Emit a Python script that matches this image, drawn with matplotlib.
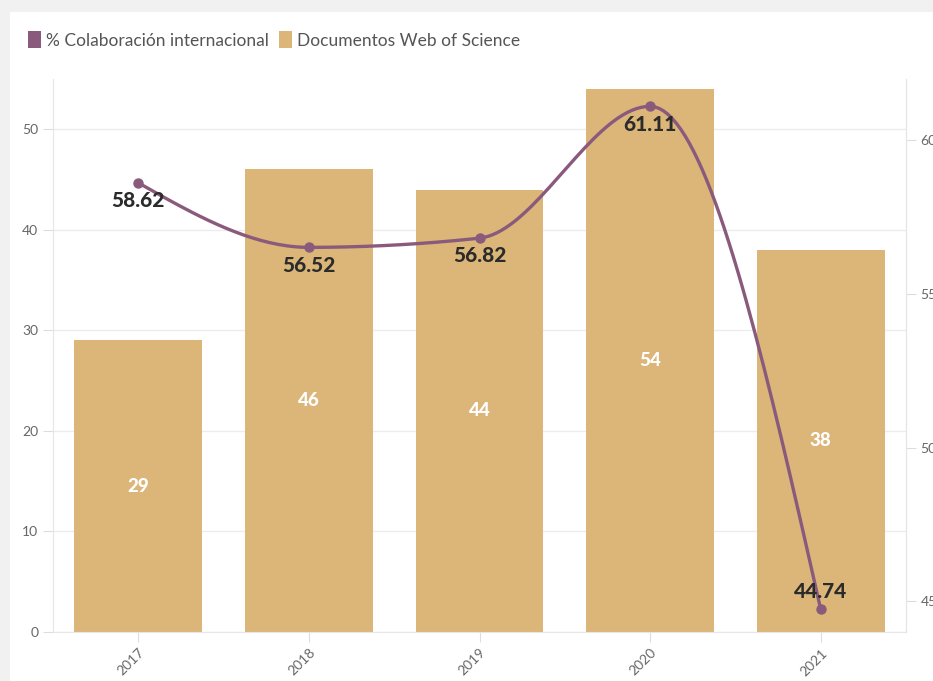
import numpy as np
import matplotlib.pyplot as plt
from matplotlib.patches import Patch, Rectangle

years = ["2017", "2018", "2019", "2020", "2021"]
docs = [29, 46, 44, 54, 38]
colab = [58.62, 56.52, 56.82, 61.11, 44.74]

BAR_COLOR = "#dbb678"
LINE_COLOR = "#8a5a7c"
TEXT_GRAY = "#666666"


def monotone_curve(x, y, steps=40):
    # monotone cubic (same rule as d3 curveMonotoneX), drawn as bezier segments
    x = np.asarray(x, float)
    y = np.asarray(y, float)
    h = np.diff(x)
    s = np.diff(y) / h
    t = np.zeros(len(x))
    for i in range(1, len(x) - 1):
        p = (s[i - 1] * h[i] + s[i] * h[i - 1]) / (h[i - 1] + h[i])
        t[i] = (np.sign(s[i - 1]) + np.sign(s[i])) * min(abs(s[i - 1]), abs(s[i]), 0.5 * abs(p))
    t[0] = (3 * s[0] - t[1]) / 2
    t[-1] = (3 * s[-1] - t[-2]) / 2
    xs, ys = [], []
    u = np.linspace(0, 1, steps)
    for i in range(len(x) - 1):
        dx = h[i] / 3
        px = [x[i], x[i] + dx, x[i + 1] - dx, x[i + 1]]
        py = [y[i], y[i] + dx * t[i], y[i + 1] - dx * t[i + 1], y[i + 1]]
        b = [(1 - u) ** 3, 3 * u * (1 - u) ** 2, 3 * u ** 2 * (1 - u), u ** 3]
        xs.append(sum(bk * pk for bk, pk in zip(b, px)))
        ys.append(sum(bk * pk for bk, pk in zip(b, py)))
    return np.concatenate(xs), np.concatenate(ys)


plt.rcParams["font.family"] = ["Lato", "DejaVu Sans"]

fig = plt.figure(figsize=(9.33, 6.81), dpi=100, facecolor="#f1f1f1")
# white card behind everything
fig.patches.append(Rectangle((10 / 933, 0), 1, 1 - 12 / 681, transform=fig.transFigure,
                             facecolor="white", edgecolor="none", zorder=-10))

ax = fig.add_axes([53 / 933, 49 / 681, 853 / 933, 553 / 681])
ax.set_facecolor("none")
xpos = np.arange(len(years))

ax.bar(xpos, docs, width=0.75, color=BAR_COLOR, zorder=2)
for xi, v in zip(xpos, docs):
    ax.text(xi, v / 2, str(v), ha="center", va="center", color="white",
            fontsize=13.5, fontweight="black", zorder=3)

ax.set_xlim(-0.5, len(years) - 0.5)
ax.set_ylim(0, 55)
ax.set_yticks([0, 10, 20, 30, 40, 50])
ax.grid(axis="y", color="#ececec", linewidth=1, zorder=0)
ax.set_xticks(xpos)
ax.set_xticklabels(years, rotation=45, ha="right", rotation_mode="anchor")
ax.tick_params(axis="both", colors="#dddddd", labelcolor=TEXT_GRAY, labelsize=10, length=7)
ax.spines["top"].set_visible(False)
for side in ["left", "bottom", "right"]:
    ax.spines[side].set_color("#e6e6e6")

ax2 = ax.twinx()
ax2.set_ylim(44, 62)
ax2.set_yticks([45, 50, 55, 60])
ax2.tick_params(axis="y", colors="#dddddd", labelcolor=TEXT_GRAY, labelsize=10, length=7)
for side in ["top", "left", "bottom"]:
    ax2.spines[side].set_visible(False)
ax2.spines["right"].set_color("#e6e6e6")

cx, cy = monotone_curve(xpos, colab)
ax2.plot(cx, cy, color=LINE_COLOR, linewidth=2.4, zorder=4, solid_capstyle="round")
ax2.scatter(xpos, colab, s=42, color=LINE_COLOR, zorder=5)
for i, (xi, v) in enumerate(zip(xpos, colab)):
    if i == len(colab) - 1:
        off, va = 6, "bottom"
    else:
        off, va = -6, "top"
    ax2.annotate(f"{v:.2f}", (xi, v), xytext=(0, off), textcoords="offset points",
                 ha="center", va=va, fontsize=15, fontweight="black", color="#2b2b2b", zorder=6)

handles = [Patch(facecolor=LINE_COLOR, edgecolor="none", label="% Colaboración internacional"),
           Patch(facecolor=BAR_COLOR, edgecolor="none", label="Documentos Web of Science")]
fig.legend(handles=handles, loc="center left", bbox_to_anchor=(12 / 933, 1 - 40 / 681),
           ncol=2, frameon=False, fontsize=12.5, handlelength=0.75, handleheight=1.1,
           handletextpad=0.3, columnspacing=0.6, labelcolor="#555555")

fig.savefig("out.png", dpi=100, facecolor=fig.get_facecolor())
